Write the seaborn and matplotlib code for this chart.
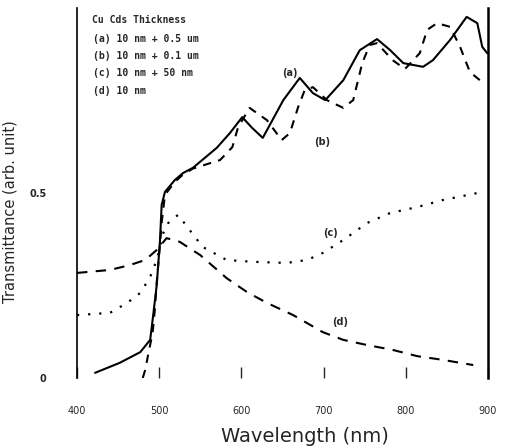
import numpy as np
import pandas as pd
import matplotlib
matplotlib.use("Agg")
import matplotlib.pyplot as plt
import seaborn as sns

# ---- data ----
wl_a = [422, 452, 477, 489, 492, 497, 501, 503, 507, 519, 529, 541, 570, 586, 601, 613, 626,
        651, 671, 687, 702, 724, 744, 765, 781, 797, 821, 833, 854, 874, 887, 893, 899]
tr_a = [0.014, 0.041, 0.070, 0.103, 0.157, 0.251, 0.373, 0.468, 0.503, 0.535, 0.554, 0.568,
        0.622, 0.662, 0.705, 0.676, 0.649, 0.751, 0.811, 0.770, 0.751, 0.805, 0.886, 0.916,
        0.886, 0.851, 0.841, 0.859, 0.914, 0.976, 0.959, 0.895, 0.878]

wl_b = [480, 483, 487, 492, 495, 497, 500, 503, 507, 519, 529, 541, 574, 589, 596, 610, 631,
        649, 659, 669, 677, 687, 704, 724, 736, 747, 756, 765, 784, 799, 817, 826, 838, 854,
        866, 878, 890]
tr_b = [0.000, 0.022, 0.068, 0.122, 0.192, 0.259, 0.335, 0.420, 0.495, 0.530, 0.550, 0.566,
        0.589, 0.624, 0.678, 0.730, 0.697, 0.643, 0.662, 0.732, 0.778, 0.786, 0.751, 0.730,
        0.751, 0.851, 0.900, 0.905, 0.859, 0.835, 0.878, 0.941, 0.959, 0.949, 0.895, 0.827,
        0.805]

wl_c = [400, 440, 461, 477, 489, 497, 505, 511, 523, 537, 553, 582, 614, 655, 680, 699, 724,
        753, 781, 814, 845, 894]
tr_c = [0.170, 0.176, 0.203, 0.230, 0.273, 0.319, 0.392, 0.419, 0.441, 0.400, 0.354, 0.319,
        0.314, 0.311, 0.319, 0.338, 0.373, 0.419, 0.446, 0.462, 0.481, 0.503]

wl_d = [400, 440, 464, 483, 497, 509, 525, 550, 582, 607, 631, 663, 699, 724, 753, 784, 814,
        845, 882]
tr_d = [0.284, 0.292, 0.305, 0.319, 0.346, 0.378, 0.368, 0.332, 0.270, 0.232, 0.203, 0.170,
        0.124, 0.103, 0.089, 0.076, 0.059, 0.049, 0.035]

x_ticks = [400, 500, 600, 700, 800, 900]
y_ticks = [0, 0.5]
y_tick_labels = ["0", "0.5"]

legend_title = "Cu Cds Thickness"
legend_lines = ["(a) 10 nm + 0.5 um", "(b) 10 nm + 0.1 um", "(c) 10 nm + 50 nm", "(d) 10 nm"]
curve_labels = ["(a)", "(b)", "(c)", "(d)"]
curve_label_pos = [(659, 0.824), (698, 0.638), (708, 0.392), (720, 0.151)]

# ---- plot ----
sns.set_style("white")
plt.rcParams["font.family"] = ["DejaVu Sans"]

fig = plt.figure(figsize=(5.08, 4.48), dpi=100)
ax = fig.add_axes([77 / 508, 1 - 378 / 448, (488 - 77) / 508, (378 - 8) / 448])

series = [
    (wl_a, tr_a, "-", 1.5),
    (wl_b, tr_b, (0, (4, 3.5)), 1.5),
    (wl_c, tr_c, (0, (1, 4)), 1.6),
    (wl_d, tr_d, (0, (5, 4)), 1.5),
]
for wl, tr, ls, lw in series:
    df = pd.DataFrame({"wl": wl, "tr": tr})
    sns.lineplot(data=df, x="wl", y="tr", ax=ax, color="black", linestyle=ls,
                 linewidth=lw, sort=False, estimator=None)

ax.set_xlim(400, 900)
ax.set_ylim(0, 1.0)
ax.set_xticks(x_ticks)
ax.set_xticklabels([str(t) for t in x_ticks], fontsize=7)
ax.set_yticks(y_ticks)
ax.set_yticklabels(y_tick_labels, fontsize=7, fontweight="bold")
ax.tick_params(axis="x", direction="in", length=8, width=1, pad=20, bottom=True)
ax.tick_params(axis="y", length=0, pad=22)

for s in ["top", "bottom"]:
    ax.spines[s].set_visible(False)
ax.spines["left"].set_linewidth(1.2)
ax.spines["right"].set_linewidth(1.8)
ax.spines["left"].set_color("black")
ax.spines["right"].set_color("black")

ax.set_xlabel("Wavelength (nm)", fontsize=14, va="center")
ax.xaxis.set_label_coords((305 - 77) / 411, (378 - 436) / 370)
ax.set_ylabel("Transmittance (arb. unit)", fontsize=10.5)
ax.yaxis.set_label_coords((18 - 77) / 411, (378 - 212) / 370)

# legend-like text block
ys = [0.968, 0.917, 0.869, 0.823, 0.777]
ax.text(418, ys[0], legend_title, fontsize=7, fontweight="bold",
        family="DejaVu Sans Mono", va="center")
for y, t in zip(ys[1:], legend_lines):
    ax.text(420, y, t, fontsize=7, fontweight="bold", family="DejaVu Sans Mono", va="center")

for (x, y), t in zip(curve_label_pos, curve_labels):
    ax.text(x, y, t, fontsize=7, fontweight="bold", va="center", ha="center")

fig.savefig("out.png", dpi=100)
